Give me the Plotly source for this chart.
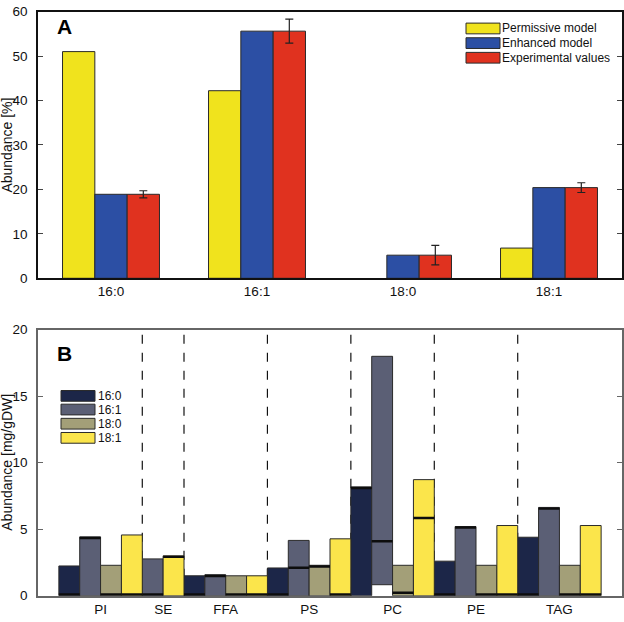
import plotly.graph_objects as go

# panel A data (None = no bar)
acids_a = ["16:0", "16:1", "18:0", "18:1"]
permissive = [51.0, 42.2, None, 6.8]
enhanced = [18.9, 55.6, 5.2, 20.4]
experimental = [18.9, 55.6, 5.2, 20.4]
experimental_err = [0.8, 2.7, 2.2, 1.1]
series_a = ["Permissive model", "Enhanced model", "Experimental values"]
colors_a = ["#f0e31d", "#2c4fa4", "#e0321f"]

# panel B data (None = bar not shown)
classes = ["PI", "SE", "FFA", "PS", "PC", "PE", "TAG"]
acids_b = ["16:0", "16:1", "18:0", "18:1"]
upper_b = {
    "16:0": [2.24, None, 1.50, 2.09, 8.18, 2.60, 4.40],
    "16:1": [4.43, 2.77, 1.58, 4.16, 18.0, 5.20, 6.64],
    "18:0": [2.29, None, 1.50, 2.29, 2.29, 2.29, 2.29],
    "18:1": [4.57, 3.00, 1.50, 4.28, 8.73, 5.28, 5.28],
}
lower_b = {
    "16:0": [0, None, 0, 0, 0, 0, 0],
    "16:1": [0, 0, 0, 0, 0.83, 0, 0],
    "18:0": [0, None, 0, 0, 0, 0, 0],
    "18:1": [0, 0, 0, 0, 0, 0, 0],
}
mark_b = {
    "16:0": [0, None, 0, 0, 8.10, 0, 0],
    "16:1": [4.33, 0, 1.48, 2.10, 4.10, 5.13, 6.55],
    "18:0": [0, None, 0, 2.20, 0.22, 0, 0],
    "18:1": [0, 2.92, 0, 0, 5.84, 0, 0],
}
colors_b = ["#1c2648", "#5b5f75", "#a39f78", "#fbe54b"]

W, H = 624, 622
FONT = "Liberation Sans, Arial, sans-serif"
OUTLINE = "#2a2a2a"

fig = go.Figure()

# ---- panel A ----
vals_a = [permissive, enhanced, experimental]
for i, name in enumerate(series_a):
    kw = {}
    if i == 2:
        kw["error_y"] = dict(type="data", array=experimental_err, color="#222",
                             thickness=1.2, width=4)
    fig.add_trace(go.Bar(x=acids_a, y=vals_a[i], name=name, marker_color=colors_a[i],
                         marker_line=dict(color=OUTLINE, width=1),
                         xaxis="x", yaxis="y", showlegend=False, **kw))

# ---- panel B: slot positions from the class / acid order ----
pos = {a: [] for a in acids_b}
group_edges = []
group_centers = []
slot = 1
for ci, cls in enumerate(classes):
    start = slot
    for a in acids_b:
        if upper_b[a][ci] is None:
            pos[a].append(None)
        else:
            pos[a].append(slot + 0.5)
            slot += 1
    group_centers.append((start + slot) / 2)
    group_edges.append(slot)

mx, mb, mh = [], [], []
for k, a in enumerate(acids_b):
    xs, ys, bs = [], [], []
    for ci in range(len(classes)):
        if upper_b[a][ci] is None:
            continue
        xs.append(pos[a][ci])
        bs.append(lower_b[a][ci])
        ys.append(upper_b[a][ci] - lower_b[a][ci])
        m = mark_b[a][ci]
        mx.append(pos[a][ci])
        mb.append(max(m - 0.09, 0))
        mh.append(0.18)
    fig.add_trace(go.Bar(x=xs, y=ys, base=bs, name=a, marker_color=colors_b[k],
                         marker_line=dict(color=OUTLINE, width=1), width=1, offset=-0.5,
                         offsetgroup="b", xaxis="x2", yaxis="y2", showlegend=False))
fig.add_trace(go.Bar(x=mx, y=mh, base=mb, marker_color="#0d0d0d", marker_line_width=0,
                     width=1, offset=-0.5, offsetgroup="b", xaxis="x2", yaxis="y2",
                     showlegend=False, hoverinfo="skip"))

# dashed separators between lipid classes
shapes = []
for e in group_edges[:-1]:
    shapes.append(dict(type="line", xref="x2", yref="y2", x0=e, x1=e, y0=0, y1=20,
                       line=dict(color="#111", width=1.2, dash="dash"), layer="below"))

annotations = []

# hand made legends (wide patches like the original)
def legend(names, colors, x0, y_centers, text_x):
    for n, c, yc in zip(names, colors, y_centers):
        shapes.append(dict(type="rect", xref="paper", yref="paper",
                           x0=x0 / W, x1=(x0 + 34) / W,
                           y0=1 - (yc + 5.5) / H, y1=1 - (yc - 5.5) / H,
                           fillcolor=c, line=dict(color=OUTLINE, width=1)))
        annotations.append(dict(text=n, xref="paper", yref="paper", x=text_x / W,
                                y=1 - yc / H, xanchor="left", yanchor="middle",
                                showarrow=False, font=dict(size=12, color="#111")))

legend(series_a, colors_a, 466, [22, 37, 52], 500)
legend(acids_b, colors_b, 61, [398.5, 412.5, 427, 441.5], 96)

annotations += [
    dict(text="<b>A</b>", xref="paper", yref="paper", x=55 / W, y=1 - 20 / H,
         xanchor="left", yanchor="middle", showarrow=False, font=dict(size=21, color="#000")),
    dict(text="<b>B</b>", xref="paper", yref="paper", x=55 / W, y=1 - 355 / H,
         xanchor="left", yanchor="middle", showarrow=False, font=dict(size=21, color="#000")),
    dict(text="Abundance [%]", xref="paper", yref="paper", x=7 / W, y=1 - 142 / H,
         xanchor="center", yanchor="middle",
         textangle=-90, showarrow=False, font=dict(size=14, color="#111")),
    dict(text="Abundance [mg/gDW]", xref="paper", yref="paper", x=7 / W, y=1 - 467 / H,
         xanchor="center", yanchor="middle",
         textangle=-90, showarrow=False, font=dict(size=14, color="#111")),
]

dom_x = [38 / W, 622 / W]
fig.update_layout(
    width=W, height=H, margin=dict(l=0, r=0, t=0, b=0),
    paper_bgcolor="white", plot_bgcolor="white",
    font=dict(family=FONT, size=13, color="#111"),
    barmode="group", bargap=0.336, bargroupgap=0,
    xaxis=dict(domain=dom_x, anchor="y", range=[-0.5, 3.5], showline=True, mirror=True,
               linecolor="#111", linewidth=1.5, ticks="", tickfont=dict(size=13.5)),
    yaxis=dict(domain=[1 - 278 / H, 1 - 4.7 / H], anchor="x", range=[0, 60], dtick=10,
               showline=True, mirror="ticks", linecolor="#111", linewidth=1.5,
               ticks="inside", ticklen=5, showgrid=False, zeroline=False,
               ticklabelstandoff=6, tickfont=dict(size=13.5)),
    xaxis2=dict(domain=dom_x, anchor="y2", range=[0, 28], showline=True, mirror=True,
                linecolor="#666", linewidth=1.5, ticks="", tickmode="array",
                tickvals=group_centers, ticktext=classes, showgrid=False, zeroline=False,
                tickfont=dict(size=13.5)),
    yaxis2=dict(domain=[1 - 603.3 / H, 1 - 330.7 / H], anchor="x2", range=[0, 20], dtick=5,
                showline=True, mirror="ticks", linecolor="#666", linewidth=1.5,
                ticks="inside", ticklen=5, tickcolor="#666", showgrid=False, zeroline=False,
                ticklabelstandoff=6, tickfont=dict(size=13.5)),
    shapes=shapes, annotations=annotations,
)

fig.write_html("out.html", config={"displayModeBar": False},
               post_script="document.body.style.margin='0px';")
